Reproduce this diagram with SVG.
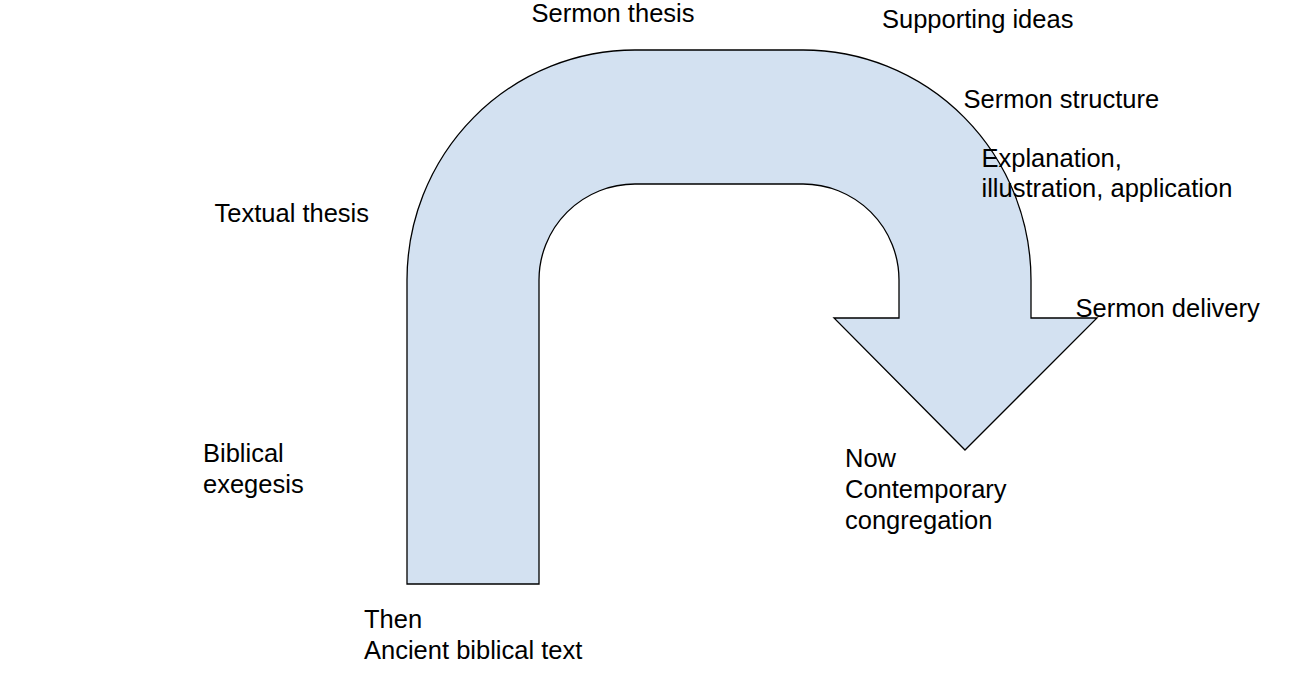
<svg xmlns="http://www.w3.org/2000/svg" width="1290" height="688" viewBox="0 0 1290 688">
<style>
.lbl{font-family:"Liberation Sans",Arial,sans-serif;font-size:25.5px;fill:#000000}
.arrow{fill:#d3e1f1;stroke:#000000;stroke-width:1.3;stroke-linejoin:miter}
</style>
<rect width="1290" height="688" fill="#ffffff"/>
<g id="uturn-arrow">
<path class="arrow" d="M407,584 V280 A228,230 0 0 1 635,50 H803 A228,230 0 0 1 1031,280 V318 H1097 L965,450 L834,318 H899 V280 A96,96 0 0 0 803,184 H635 A96,96 0 0 0 539,280 V584 Z"/>
</g>
<g id="connectors"></g>
<g id="label-sermon-thesis"><text class="lbl" x="531.5" y="21.5">Sermon thesis</text></g>
<g id="label-supporting-ideas"><text class="lbl" x="882" y="27.5">Supporting ideas</text></g>
<g id="label-sermon-structure"><text class="lbl" x="963.5" y="107.5">Sermon structure</text></g>
<g id="label-explanation"><text class="lbl" x="981.5" y="166.5">Explanation,</text><text class="lbl" x="981.5" y="196.5">illustration, application</text></g>
<g id="label-textual-thesis"><text class="lbl" x="214.5" y="221.5">Textual thesis</text></g>
<g id="label-sermon-delivery"><text class="lbl" x="1075.5" y="317">Sermon delivery</text></g>
<g id="label-biblical-exegesis"><text class="lbl" x="203" y="461.5">Biblical</text><text class="lbl" x="203" y="492.5">exegesis</text></g>
<g id="label-now"><text class="lbl" x="845" y="466.5">Now</text><text class="lbl" x="845" y="497.5">Contemporary</text><text class="lbl" x="845" y="528.5">congregation</text></g>
<g id="label-then"><text class="lbl" x="364" y="628">Then</text><text class="lbl" x="364" y="658.5">Ancient biblical text</text></g>
</svg>
